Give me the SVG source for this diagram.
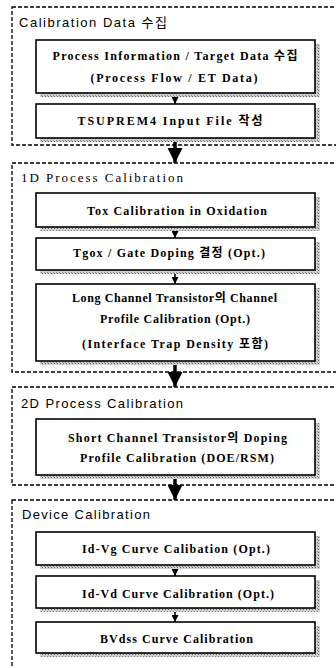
<svg xmlns="http://www.w3.org/2000/svg" width="336" height="668" viewBox="0 0 336 668">
<style>
.grp{fill:none;stroke:#000;stroke-width:1.3;stroke-dasharray:4 2}
.box{fill:#fff;stroke:#000;stroke-width:1.6}
.sh{fill:url(#stip)}
.t{font-family:"Liberation Serif","Noto Sans CJK KR",serif;font-weight:bold;font-size:12px;fill:#000;text-anchor:middle}
.gt{font-family:"Liberation Sans","Noto Sans CJK KR",sans-serif;font-size:13px;fill:#000}
.gs{font-family:"Liberation Serif","Noto Sans CJK KR",serif;font-size:13px;fill:#000}
.cs{stroke:#000;stroke-width:1.6;fill:none}
.cb{stroke:#000;stroke-width:3.5;fill:none}
</style>
<defs>
<pattern id="stip" width="3" height="3" patternUnits="userSpaceOnUse">
<rect width="3" height="3" fill="#d0d0d0"/>
<rect width="1" height="1" fill="#666"/>
<rect x="2" y="2" width="1" height="1" fill="#888"/>
</pattern>
<marker id="ah" markerUnits="userSpaceOnUse" markerWidth="8" markerHeight="7" refX="7" refY="3.5" orient="auto">
<path d="M0,0 L7,3.5 L0,7 Z" fill="#000"/>
</marker>
<marker id="ahb" markerUnits="userSpaceOnUse" markerWidth="16" markerHeight="15" refX="15" refY="7.5" orient="auto">
<path d="M0,0 L15,7.5 L0,15 Z" fill="#000"/>
</marker>
</defs>

<g id="group-calibration-data">
<rect class="grp" x="12" y="7" width="340" height="138"/>
<text class="gt" x="19" y="27" textLength="148" lengthAdjust="spacing">Calibration Data 수집</text>
</g>
<g id="group-1d">
<rect class="grp" x="12" y="163" width="340" height="209"/>
<text class="gs" x="21" y="182" textLength="162" lengthAdjust="spacing">1D Process Calibration</text>
</g>
<g id="group-2d">
<rect class="grp" x="12" y="387" width="340" height="98"/>
<text class="gt" x="21" y="408" textLength="162" lengthAdjust="spacing">2D Process Calibration</text>
</g>
<g id="group-device">
<rect class="grp" x="12" y="500" width="340" height="190"/>
<text class="gt" x="22" y="519" textLength="128" lengthAdjust="spacing">Device Calibration</text>
</g>

<g id="connectors">
<line class="cs" x1="175" y1="93" x2="175" y2="104" marker-end="url(#ah)"/>
<line class="cb" x1="175" y1="138" x2="175" y2="163" marker-end="url(#ahb)"/>
<line class="cs" x1="175" y1="227" x2="175" y2="238" marker-end="url(#ah)"/>
<line class="cs" x1="175" y1="270" x2="175" y2="284" marker-end="url(#ah)"/>
<line class="cb" x1="175" y1="361" x2="175" y2="387" marker-end="url(#ahb)"/>
<line class="cb" x1="175" y1="475" x2="175" y2="500" marker-end="url(#ahb)"/>
<line class="cs" x1="175" y1="565" x2="175" y2="576" marker-end="url(#ah)"/>
<line class="cs" x1="175" y1="608" x2="175" y2="622" marker-end="url(#ah)"/>
</g>

<g id="n-process-info">
<rect class="sh" x="40" y="44" width="280" height="53"/>
<rect class="box" x="36" y="40" width="279" height="53"/>
<text class="t" x="175" y="60" textLength="245" lengthAdjust="spacing">Process Information / Target Data 수집</text>
<text class="t" x="174" y="82" textLength="167" lengthAdjust="spacing">(Process Flow / ET Data)</text>
</g>
<g id="n-tsuprem">
<rect class="sh" x="40" y="108" width="280" height="34"/>
<rect class="box" x="36" y="104" width="279" height="34"/>
<text class="t" x="170" y="125" textLength="185" lengthAdjust="spacing">TSUPREM4 Input File 작성</text>
</g>
<g id="n-tox">
<rect class="sh" x="40" y="197" width="280" height="34"/>
<rect class="box" x="36" y="193" width="279" height="34"/>
<text class="t" x="177" y="215" textLength="180" lengthAdjust="spacing">Tox Calibration in Oxidation</text>
</g>
<g id="n-tgox">
<rect class="sh" x="40" y="242" width="280" height="32"/>
<rect class="box" x="36" y="238" width="279" height="32"/>
<text class="t" x="169" y="257" textLength="192" lengthAdjust="spacing">Tgox / Gate Doping 결정 (Opt.)</text>
</g>
<g id="n-long-channel">
<rect class="sh" x="40" y="288" width="280" height="77"/>
<rect class="box" x="36" y="284" width="279" height="77"/>
<text class="t" x="174.5" y="302" textLength="205" lengthAdjust="spacing">Long Channel Transistor의 Channel</text>
<text class="t" x="175" y="323" textLength="150" lengthAdjust="spacing">Profile Calibration (Opt.)</text>
<text class="t" x="175" y="348" textLength="186" lengthAdjust="spacing">(Interface Trap Density 포함)</text>
</g>
<g id="n-short-channel">
<rect class="sh" x="40" y="423" width="280" height="56"/>
<rect class="box" x="36" y="419" width="279" height="56"/>
<text class="t" x="177.5" y="442" textLength="219" lengthAdjust="spacing">Short Channel Transistor의 Doping</text>
<text class="t" x="177" y="462" textLength="194" lengthAdjust="spacing">Profile Calibration (DOE/RSM)</text>
</g>
<g id="n-idvg">
<rect class="sh" x="40" y="536" width="280" height="33"/>
<rect class="box" x="36" y="532" width="279" height="33"/>
<text class="t" x="176" y="553" textLength="188" lengthAdjust="spacing">Id-Vg Curve Calibation (Opt.)</text>
</g>
<g id="n-idvd">
<rect class="sh" x="40" y="580" width="280" height="32"/>
<rect class="box" x="36" y="576" width="279" height="32"/>
<text class="t" x="178" y="598" textLength="192" lengthAdjust="spacing">Id-Vd Curve Calibration (Opt.)</text>
</g>
<g id="n-bvdss">
<rect class="sh" x="40" y="626" width="280" height="31"/>
<rect class="box" x="36" y="622" width="279" height="31"/>
<text class="t" x="176.5" y="643" textLength="153" lengthAdjust="spacing">BVdss Curve Calibration</text>
</g>
</svg>
